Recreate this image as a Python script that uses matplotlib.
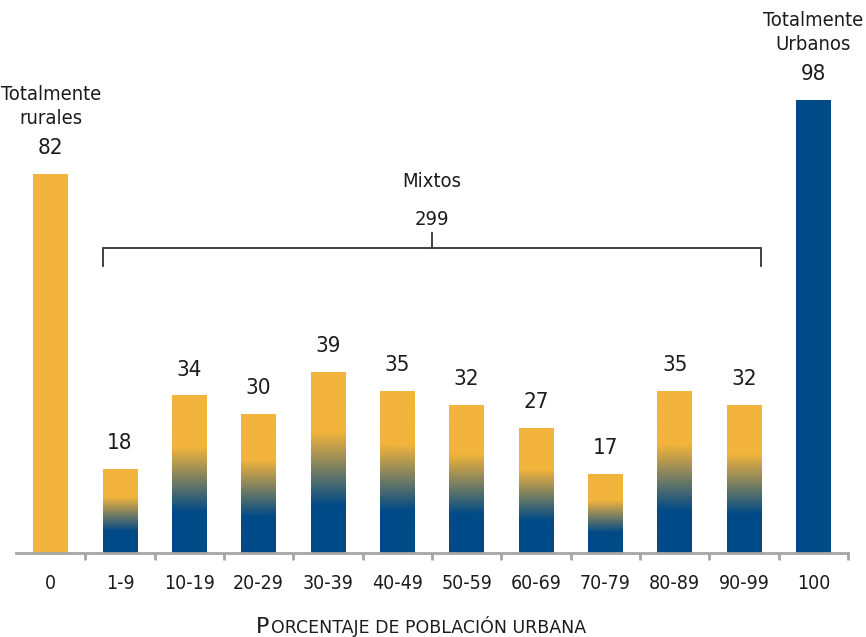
import numpy as np
import matplotlib
matplotlib.use("Agg")
import matplotlib.pyplot as plt
from matplotlib.colors import LinearSegmentedColormap

# Data
categories = ["0", "1-9", "10-19", "20-29", "30-39", "40-49", "50-59",
              "60-69", "70-79", "80-89", "90-99", "100"]
counts = [82, 18, 34, 30, 39, 35, 32, 27, 17, 35, 32, 98]
mixed_total = 299
mixed_label = "Mixtos"
rural_lines = ["Totalmente", "rurales"]
urban_lines = ["Totalmente", "Urbanos"]

yellow = "#F2B43C"
blue = "#004A87"
text_color = "#1c1c1c"
axis_gray = "#a6a6a6"

plt.rcParams['font.family'] = ['DejaVu Sans']
plt.rcParams['font.stretch'] = 'condensed'

fig = plt.figure(figsize=(8.66, 6.37), dpi=100)
ax = fig.add_axes([16 / 866, 1 - 553 / 637, 832 / 866, 553 / 637])

x = np.arange(len(categories))
width = 0.5

# blue bottom -> yellow top gradient for the mixed bars
grad_cmap = LinearSegmentedColormap.from_list(
    "grad", [(0.0, blue), (0.26, blue), (0.67, yellow), (1.0, yellow)])
grad = np.linspace(0, 1, 256).reshape(-1, 1)

for i, v in enumerate(counts):
    if i == 0:
        ax.bar(x[i], v, width, color=yellow, zorder=2)
    elif i == len(counts) - 1:
        ax.bar(x[i], v, width, color=blue, zorder=2)
    else:
        ax.imshow(grad, cmap=grad_cmap, origin="lower", aspect="auto",
                  extent=[x[i] - width / 2, x[i] + width / 2, 0, v], zorder=2)

# value labels
for i, v in enumerate(counts):
    ax.text(x[i], v + 4.4, str(v), ha="center", va="baseline",
            fontsize=16, color=text_color)

for k, line in enumerate(rural_lines):
    ax.text(x[0], counts[0] + 16.1 - 5.3 * k, line, ha="center",
            va="baseline", fontsize=14.5, color=text_color)
for k, line in enumerate(urban_lines):
    ax.text(x[-1], counts[-1] + 16.1 - 5.3 * k, line, ha="center",
            va="baseline", fontsize=14.5, color=text_color)

# bracket for the mixed group
left = x[1] - width / 2
right = x[10] + width / 2
mid = (left + right) / 2
ax.plot([left, left, right, right], [62.2, 66, 66, 62.2],
        color="#333333", lw=1.3, zorder=3, solid_joinstyle="miter")
ax.plot([mid, mid], [66, 69.3], color="#333333", lw=1.3, zorder=3)
ax.text(mid, 71.0, str(mixed_total), ha="center", va="baseline",
        fontsize=14.5, color=text_color)
ax.text(mid, 79.25, mixed_label, ha="center", va="baseline",
        fontsize=14.5, color=text_color)

ax.set_xlim(-0.5, len(categories) - 0.5)
ax.set_ylim(0, 553 / 4.622)

for s in ["top", "right", "left"]:
    ax.spines[s].set_visible(False)
ax.spines["bottom"].set_color(axis_gray)
ax.spines["bottom"].set_linewidth(2)
ax.set_yticks([])
ax.set_xticks(x)
ax.set_xticklabels(categories, fontsize=14, color=text_color)
ax.tick_params(axis="x", length=0, pad=15)
ax.set_xticks(np.arange(len(categories)) + 0.5, minor=True)
ax.tick_params(axis="x", which="minor", length=5, width=2, color=axis_gray)

# small-caps style axis title
t1 = fig.text(256 / 866, (637 - 633) / 637, "P", fontsize=16,
              color=text_color, ha="left", va="baseline", fontstretch="normal")
ax.annotate("ORCENTAJE DE POBLACIÓN URBANA", xy=(1, 0), xycoords=t1,
            xytext=(1, 0), textcoords="offset points", ha="left", va="bottom",
            fontsize=12.5, color=text_color, fontstretch="normal",
            annotation_clip=False)

fig.savefig("out.png", dpi=100)
